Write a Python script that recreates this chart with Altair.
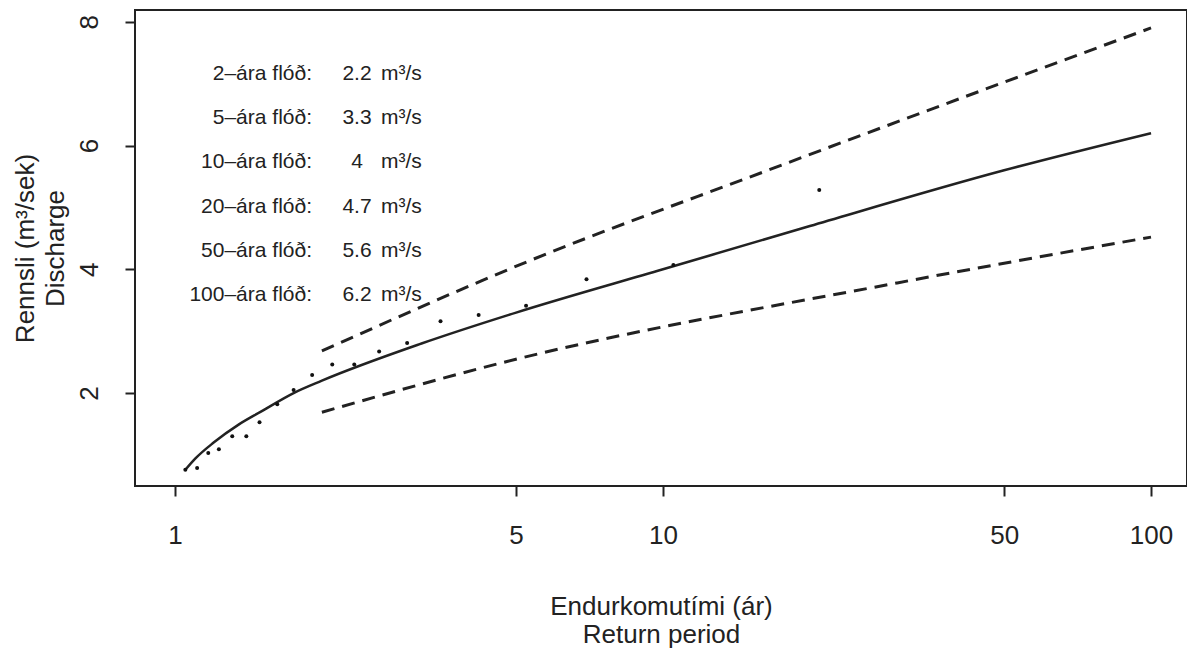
import altair as alt
import pandas as pd

# Observed annual maximum discharges at their plotting positions (return period, years)
obs_period = [1.05, 1.11, 1.17, 1.23, 1.31, 1.40, 1.49, 1.62, 1.75, 1.91,
              2.10, 2.33, 2.62, 2.99, 3.50, 4.19, 5.24, 6.97, 10.5, 20.9]
obs_discharge = [0.76, 0.79, 1.03, 1.09, 1.30, 1.30, 1.53, 1.82, 2.05, 2.29,
                 2.46, 2.46, 2.67, 2.81, 3.16, 3.26, 3.41, 3.84, 4.07, 5.28]

# Fitted frequency curve
fit_period = [1.05, 1.1, 1.2, 1.35, 1.5, 1.75, 2, 3.2, 5, 10, 20, 50, 100]
fit_discharge = [0.76, 0.94, 1.20, 1.49, 1.70, 2.0, 2.2, 2.8, 3.3, 4.0, 4.7, 5.6, 6.2]

# Confidence band (upper and lower)
upper_period = [2.0, 5.26, 16.4, 100]
upper_discharge = [2.68, 4.12, 5.60, 7.90]
lower_period = [2.0, 4.79, 30.2, 100]
lower_discharge = [1.69, 2.51, 3.78, 4.52]

# Design floods listed in the corner
flood_labels = ["2–ára flóð:", "5–ára flóð:", "10–ára flóð:",
                "20–ára flóð:", "50–ára flóð:", "100–ára flóð:"]
flood_values = ["2.2", "3.3", "4", "4.7", "5.6", "6.2"]

x_ticks = [1, 5, 10, 50, 100]
y_ticks = [2, 4, 6, 8]

INK = "#222222"
FONT = "Liberation Sans"

x_scale = alt.Scale(type="log", domain=[0.828, 118.5], nice=False)
y_scale = alt.Scale(domain=[0.498, 8.19], nice=False, zero=False)

x_axis = alt.Axis(
    values=x_ticks, format="d", grid=False, domain=False,
    tickSize=10, tickWidth=2, tickColor=INK,
    labelFontSize=26, labelColor=INK, labelPadding=26, labelFont=FONT,
    title=["Endurkomutími (ár)", "Return period"], titleFontSize=26,
    titleFontWeight="normal", titleColor=INK, titleFont=FONT,
    titleLineHeight=28, titlePadding=45,
)
y_axis = alt.Axis(
    values=y_ticks, grid=False, domain=False,
    tickSize=10, tickWidth=2, tickColor=INK,
    labelFontSize=26, labelColor=INK, labelPadding=28, labelFont=FONT,
    labelAngle=270, labelAlign="center", labelBaseline="alphabetic",
    title=["Rennsli (m³/sek)", "Discharge"], titleFontSize=26,
    titleFontWeight="normal", titleColor=INK, titleFont=FONT,
    titleLineHeight=30, titlePadding=8,
)

obs = pd.DataFrame({"period": obs_period, "discharge": obs_discharge})
fit = pd.DataFrame({"period": fit_period, "discharge": fit_discharge})
upper = pd.DataFrame({"period": upper_period, "discharge": upper_discharge})
lower = pd.DataFrame({"period": lower_period, "discharge": lower_discharge})
floods = pd.DataFrame({"label": flood_labels, "value": flood_values,
                       "unit": ["m³/s"] * len(flood_labels)})

X = alt.X("period:Q", scale=x_scale, axis=x_axis)
Y = alt.Y("discharge:Q", scale=y_scale, axis=y_axis)

fit_line = alt.Chart(fit).mark_line(
    color=INK, strokeWidth=2.5, interpolate="monotone"
).encode(x=X, y=Y)

upper_line = alt.Chart(upper).mark_line(
    color=INK, strokeWidth=3, strokeDash=[13, 8], interpolate="monotone"
).encode(x=X, y=Y)

lower_line = alt.Chart(lower).mark_line(
    color=INK, strokeWidth=3, strokeDash=[13, 8], interpolate="monotone"
).encode(x=X, y=Y)

points = alt.Chart(obs).mark_circle(color="#111111", opacity=1, size=16).encode(x=X, y=Y)

# Table of design floods, one row every 44 px below the top of the plot
rows = alt.Chart(floods).transform_window(
    row="row_number()"
).transform_calculate(
    py="64 + (datum.row - 1) * 44.2"
)
text_style = dict(fontSize=21, font=FONT, color=INK, baseline="middle")
label_text = rows.mark_text(align="right", **text_style).encode(
    x=alt.value(177), y=alt.Y("py:Q", scale=None), text="label:N")
value_text = rows.mark_text(align="center", **text_style).encode(
    x=alt.value(222), y=alt.Y("py:Q", scale=None), text="value:N")
unit_text = rows.mark_text(align="left", **text_style).encode(
    x=alt.value(246), y=alt.Y("py:Q", scale=None), text="unit:N")

chart = alt.layer(
    upper_line, lower_line, fit_line, points, label_text, value_text, unit_text
).properties(
    width=1052, height=476,
    autosize=alt.AutoSizeParams(type="none"),
    padding={"left": 135, "top": 10, "right": 0, "bottom": 164},
    background="white",
).configure_view(
    stroke=INK, strokeWidth=2
)

chart.save("out.html", embed_options={"renderer": "svg", "actions": False})
